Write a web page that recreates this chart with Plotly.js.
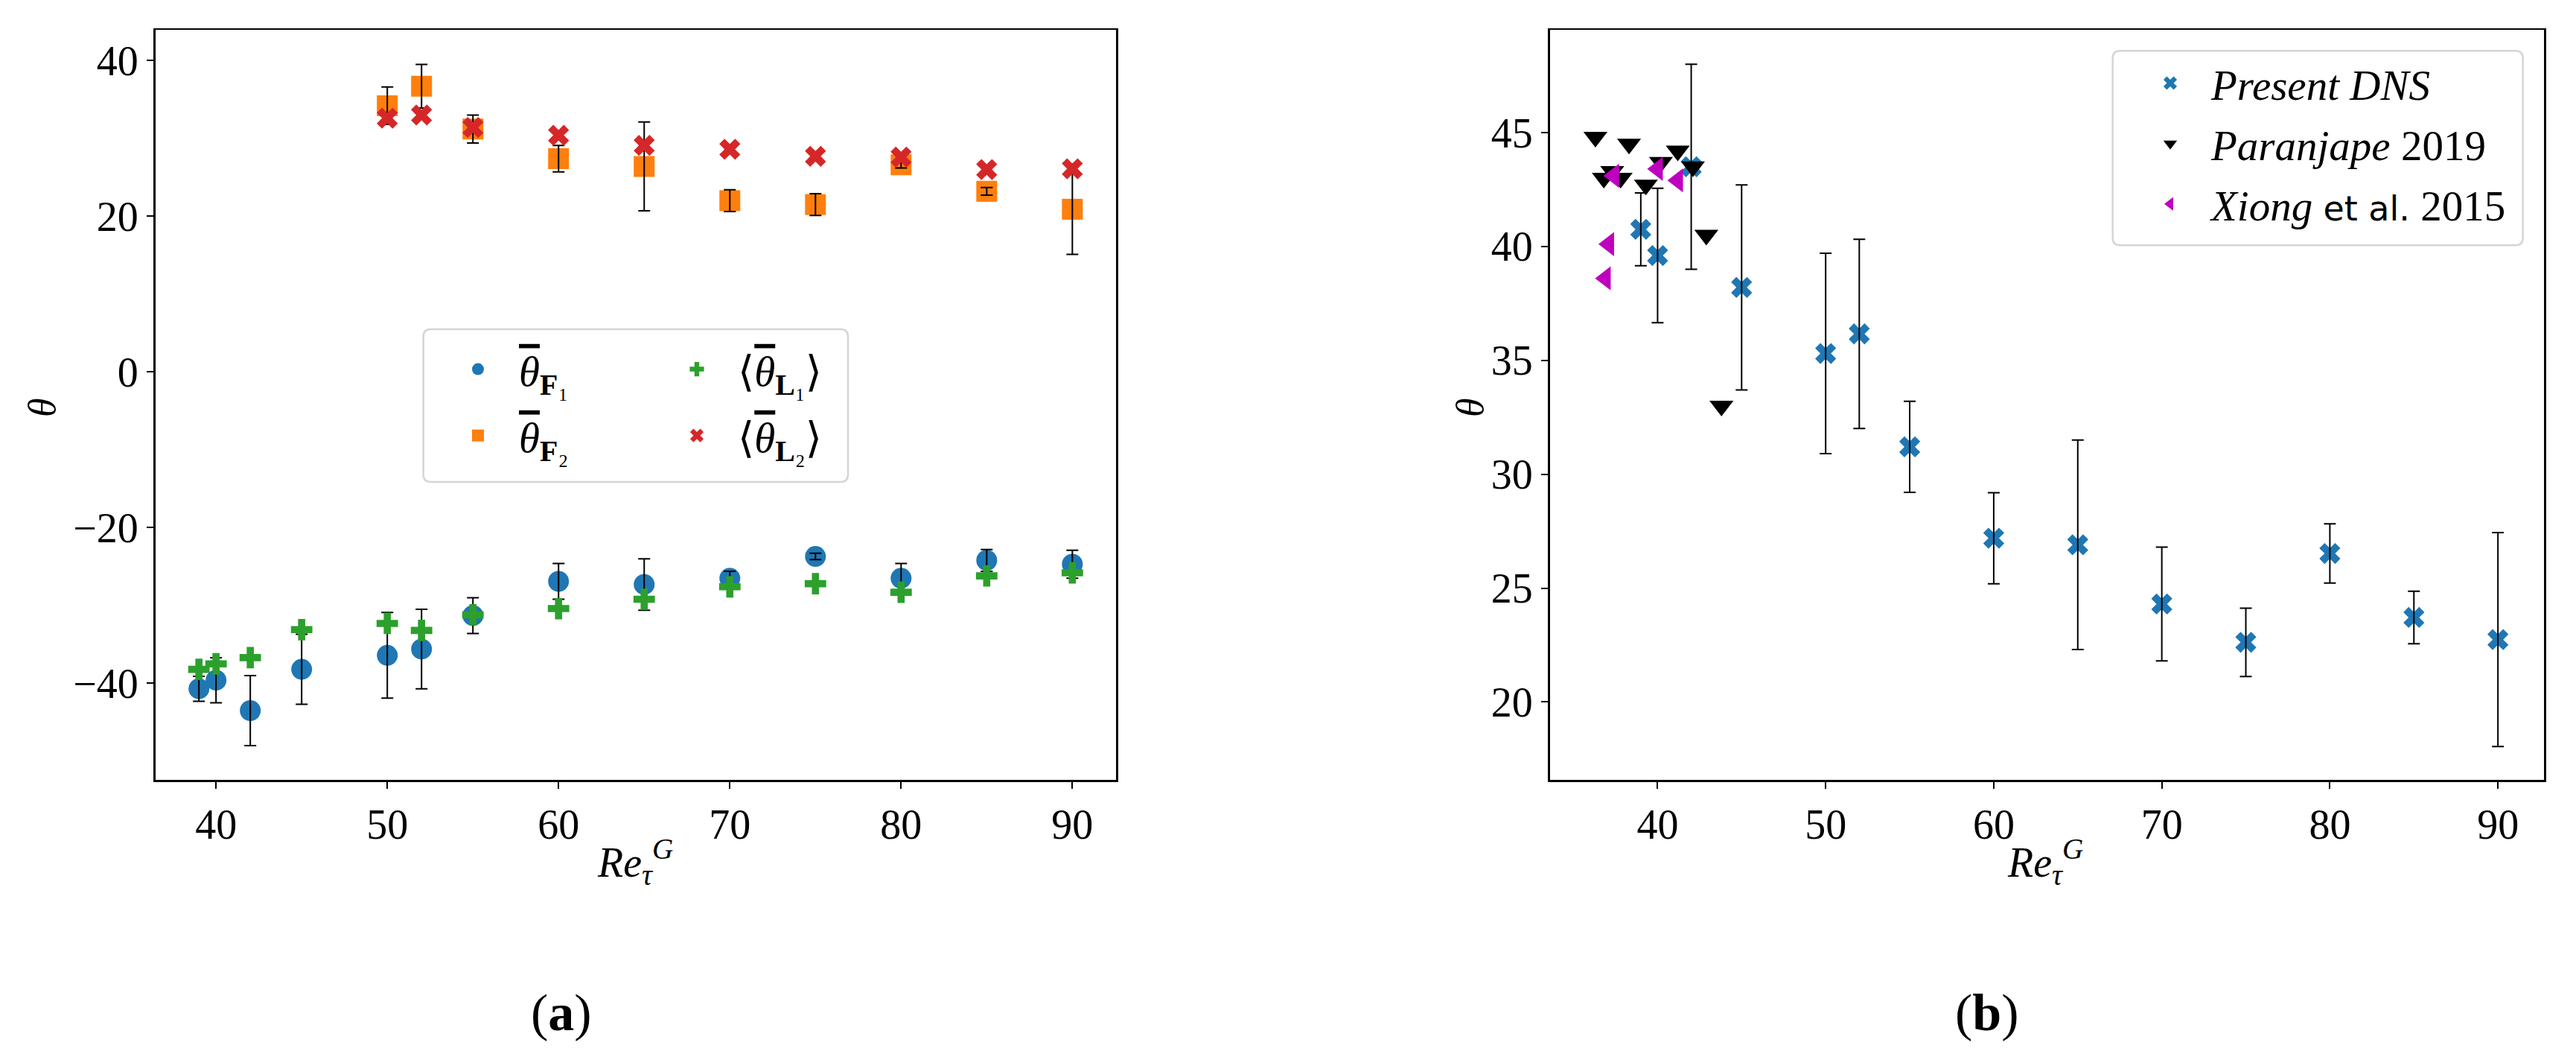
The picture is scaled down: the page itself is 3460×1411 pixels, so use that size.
<!DOCTYPE html>
<html>
<head>
<meta charset="utf-8">
<script src="https://cdn.plot.ly/plotly-3.0.1.min.js"></script>
<style>
  html, body { margin: 0; padding: 0; background: #ffffff; }
  #chart { width: 3460px; height: 1411px; }
</style>
</head>
<body>
<div id="chart"></div>
<script>
// ---- data ----
// (a) orientation angles vs Re_tau^G
const reA = [39, 40, 42, 45, 50, 52, 55, 60, 65, 70, 75, 80, 85, 90];
const thetaF1 = [-40.7, -39.6, -43.5, -38.2, -36.4, -35.6, -31.3, -26.9, -27.3, -26.5, -23.7, -26.5, -24.2, -24.7];
const errF1 = [1.6, 2.9, 4.5, 4.5, 5.5, 5.1, 2.3, 2.3, 3.3, 0.9, 0.4, 1.9, 1.4, 1.8];
const thetaL1 = [-38.2, -37.5, -36.7, -33.1, -32.3, -33.2, -31.2, -30.4, -29.2, -27.6, -27.2, -28.3, -26.2, -25.8];

const reA2 = [50, 52, 55, 60, 65, 70, 75, 80, 85, 90];
const thetaF2 = [34.2, 36.7, 31.2, 27.4, 26.4, 22.0, 21.5, 26.6, 23.2, 20.9];
const errF2 = [2.4, 2.8, 1.8, 1.7, 5.7, 1.4, 1.4, 0.4, 0.5, 5.8];
const thetaL2 = [32.6, 33.0, 31.4, 30.4, 29.1, 28.6, 27.7, 27.6, 26.0, 26.1];

// (b) comparison with literature
const reB = [39, 40, 42, 45, 50, 52, 55, 60, 65, 70, 75, 80, 85, 90];
const thetaDNS = [40.75, 39.6, 43.5, 38.2, 35.3, 36.16, 31.2, 27.19, 26.9, 24.3, 22.62, 26.52, 23.71, 22.74];
const errDNS = [1.6, 2.95, 4.5, 4.5, 4.4, 4.15, 2.0, 2.0, 4.6, 2.5, 1.5, 1.3, 1.15, 4.7];

const reParanjape = [36.3, 36.8, 37.3, 37.8, 38.3, 39.3, 40.2, 41.2, 42.1, 42.9, 43.8];
const thetaParanjape = [44.8, 43.0, 43.3, 43.0, 44.5, 42.7, 43.7, 44.2, 43.5, 40.5, 33.0];

const reXiong = [37.4, 37.1, 36.9, 40.0, 41.2];
const thetaXiong = [43.1, 40.1, 38.6, 43.4, 42.9];

// ---- style ----
const W = 3460, H = 1411;
const FONT = "'Liberation Serif', 'DejaVu Serif', serif";
const COLORS = {
  blue: "#1f77b4",
  orange: "#ff7f0e",
  green: "#2ca02c",
  red: "#d62728",
  black: "#000000",
  magenta: "#bf00bf",
};

const px = (x) => x / W;
const py = (y) => 1 - y / H;

const THETA_BAR = "<span style=\"text-decoration:overline\"><i>θ</i></span>";

function errBar(values) {
  return { type: "data", array: values, visible: true, color: "#000000", thickness: 2, width: 8 };
}

function points(x, y, symbol, color, size, extra = {}) {
  return {
    type: "scatter",
    mode: "markers",
    x,
    y,
    marker: { symbol, color, size, line: { width: 0 } },
    hoverinfo: "skip",
    ...extra,
  };
}

// error bars drawn on top of their own markers, like matplotlib errorbar
function bars(x, y, err, xaxis, yaxis) {
  return {
    type: "scatter",
    mode: "markers",
    x,
    y,
    xaxis,
    yaxis,
    marker: { opacity: 0, size: 2 },
    error_y: errBar(err),
    showlegend: false,
    hoverinfo: "skip",
  };
}

const traces = [
  points(reA, thetaF1, "circle", COLORS.blue, 28, {
    name: THETA_BAR + "<sub><b>F</b>₁</sub>", legend: "legend", legendgroup: "f1",
  }),
  bars(reA, thetaF1, errF1, "x", "y"),
  points(reA2, thetaF2, "square", COLORS.orange, 28, {
    name: THETA_BAR + "<sub><b>F</b>₂</sub>", legend: "legend", legendgroup: "f2",
  }),
  bars(reA2, thetaF2, errF2, "x", "y"),
  points(reA, thetaL1, "cross", COLORS.green, 24, {
    name: "⟨" + THETA_BAR + "<sub><b>L</b>₁</sub>⟩", legend: "legend2", legendgroup: "l1",
  }),
  points(reA2, thetaL2, "x", COLORS.red, 25, {
    name: "⟨" + THETA_BAR + "<sub><b>L</b>₂</sub>⟩", legend: "legend2", legendgroup: "l2",
  }),

  points(reB, thetaDNS, "x", COLORS.blue, 25, {
    xaxis: "x2", yaxis: "y2",
    name: "<i>Present DNS</i>", legend: "legend3", legendgroup: "dns",
  }),
  bars(reB, thetaDNS, errDNS, "x2", "y2"),
  points(reParanjape, thetaParanjape, "triangle-down", COLORS.black, 28, {
    xaxis: "x2", yaxis: "y2",
    name: "<i>Paranjape</i> 2019", legend: "legend3", legendgroup: "par",
  }),
  points(reXiong, thetaXiong, "triangle-left", COLORS.magenta, 28, {
    xaxis: "x2", yaxis: "y2",
    name: "<i>Xiong</i> <span style=\"font-family:'DejaVu Sans';font-size:46px\">et al.</span> 2015",
    legend: "legend3", legendgroup: "xio",
  }),
];

const baseAxis = {
  showline: true,
  mirror: true,
  linecolor: "#000000",
  linewidth: 2.5,
  ticks: "outside",
  ticklen: 9,
  tickwidth: 2,
  tickcolor: "#000000",
  showgrid: false,
  zeroline: false,
  tickfont: { family: FONT, size: 56, color: "#000000" },
  fixedrange: true,
};

const yTop = 40, yBottom = 1047;
const yDomain = [py(yBottom), py(yTop)];

const legendBase = {
  bgcolor: "rgba(0,0,0,0)",
  borderwidth: 0,
  font: { family: FONT, size: 57, color: "#000000" },
  xanchor: "left",
  yanchor: "top",
  itemwidth: 100,
  tracegroupgap: 12,
};

function roundedBox(x0, y0, x1, y1, r) {
  const rx = r / W, ry = r / H;
  const X0 = px(x0), X1 = px(x1), Y0 = py(y0), Y1 = py(y1);
  return {
    type: "path",
    xref: "paper",
    yref: "paper",
    path: `M${X0 + rx},${Y0} L${X1 - rx},${Y0} Q${X1},${Y0} ${X1},${Y0 - ry} ` +
      `L${X1},${Y1 + ry} Q${X1},${Y1} ${X1 - rx},${Y1} L${X0 + rx},${Y1} ` +
      `Q${X0},${Y1} ${X0},${Y1 + ry} L${X0},${Y0 - ry} Q${X0},${Y0} ${X0 + rx},${Y0} Z`,
    line: { color: "#d5d5d5", width: 2.5 },
    fillcolor: "rgba(255,255,255,0.8)",
    layer: "above",
  };
}

function label(text, x, y, size, extra = {}) {
  return {
    text,
    xref: "paper",
    yref: "paper",
    x: px(x),
    y: py(y),
    xanchor: "center",
    yanchor: "middle",
    showarrow: false,
    font: { family: FONT, size, color: "#000000" },
    ...extra,
  };
}

const layout = {
  width: W,
  height: H,
  margin: { l: 0, r: 0, t: 0, b: 0 },
  paper_bgcolor: "#ffffff",
  plot_bgcolor: "#ffffff",
  font: { family: FONT, color: "#000000" },
  hovermode: false,
  dragmode: false,
  xaxis: { ...baseAxis, domain: [px(208.5), px(1499)], range: [36.45, 92.55], dtick: 10, anchor: "y" },
  yaxis: { ...baseAxis, domain: yDomain, range: [-52.4, 43.95], dtick: 20, anchor: "x" },
  xaxis2: { ...baseAxis, domain: [px(2081.5), px(3417)], range: [33.58, 92.74], dtick: 10, anchor: "y2" },
  yaxis2: { ...baseAxis, domain: yDomain, range: [16.58, 49.51], dtick: 5, anchor: "x2" },
  legend: { ...legendBase, x: px(587), y: py(452) },
  legend2: { ...legendBase, x: px(881), y: py(452) },
  legend3: { ...legendBase, x: px(2860), y: py(68), tracegroupgap: 4 },
  shapes: [
    roundedBox(568.6, 442, 1139, 647, 10),
    roundedBox(2837.7, 68.3, 3388.7, 329.3, 10),
  ],
  annotations: [
    label("<i>θ</i>", 56, 547, 52, { textangle: -90 }),
    label("<i>θ</i>", 1974, 547, 52, { textangle: -90 }),
    label("<i>Re</i><sub><i>τ</i></sub><sup><i>G</i></sup>", 853, 1157, 56),
    label("<i>Re</i><sub><i>τ</i></sub><sup><i>G</i></sup>", 2747, 1157, 56),
    label("(<b>a</b>)", 754, 1359, 70),
    label("(<b>b</b>)", 2669, 1359, 70),
  ],
};

Plotly.newPlot("chart", traces, layout, { displayModeBar: false, staticPlot: true });
</script>
</body>
</html>
